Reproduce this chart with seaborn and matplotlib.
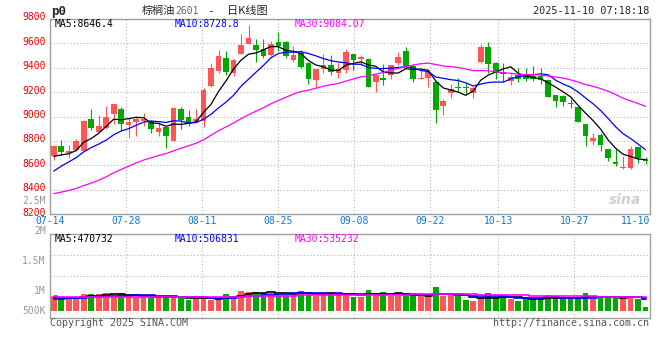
import numpy as np
import pandas as pd
import matplotlib
matplotlib.use("Agg")
import matplotlib.pyplot as plt
import matplotlib.transforms as mtransforms
import seaborn as sns

sns.set_style("white")
plt.rcParams['font.family'] = ['DejaVu Sans Mono', 'Noto Sans CJK SC']

# 棕榈油2601 日K线，2025-07-14 ~ 2025-11-10，80个交易日
opens = [8680, 8762, 8702, 8724, 8721, 8979, 8876, 8903, 9017, 9061,
         8933, 8952, 8963, 8960, 8876, 8917, 8802, 9061, 8998, 8960,
         8966, 9249, 9377, 9477, 9358, 9515, 9594, 9586, 9551, 9502,
         9611, 9613, 9466, 9524, 9439, 9298, 9387, 9420, 9360, 9385,
         9510, 9475, 9469, 9279, 9317, 9338, 9442, 9537, 9415, 9311,
         9320, 9284, 9083, 9189, 9243, 9238, 9192, 9450, 9570, 9442,
         9366, 9292, 9338, 9335, 9333, 9333, 9298, 9178, 9170, 9113,
         9080, 8941, 8800, 8851, 8737, 8623, 8579, 8577, 8753, 8653]
highs = [8762, 8811, 8770, 8816, 8971, 9064, 9012, 9088, 9102, 9075,
         8988, 9007, 9028, 8968, 8952, 8925, 9075, 9080, 9056, 9064,
         9235, 9428, 9545, 9537, 9469, 9681, 9749, 9632, 9632, 9619,
         9695, 9619, 9578, 9545, 9447, 9393, 9510, 9502, 9436, 9551,
         9510, 9504, 9475, 9347, 9428, 9423, 9529, 9570, 9434, 9379,
         9387, 9292, 9143, 9270, 9314, 9273, 9238, 9591, 9611, 9447,
         9442, 9352, 9401, 9395, 9415, 9396, 9306, 9178, 9175, 9143,
         9080, 8941, 8865, 8865, 8737, 8734, 8672, 8762, 8753, 8666]
lows = [8645, 8685, 8658, 8713, 8718, 8892, 8871, 8898, 8936, 8884,
        8822, 8838, 8925, 8862, 8838, 8740, 8802, 8895, 8919, 8952,
        8911, 9243, 9360, 9344, 9333, 9515, 9594, 9450, 9483, 9496,
        9537, 9477, 9450, 9401, 9270, 9238, 9360, 9341, 9314, 9355,
        9379, 9423, 9238, 9205, 9262, 9311, 9426, 9396, 9279, 9306,
        9246, 8944, 9012, 9148, 9197, 9183, 9148, 9436, 9360, 9306,
        9284, 9257, 9279, 9290, 9292, 9265, 9156, 9075, 9088, 9066,
        8952, 8756, 8770, 8713, 8631, 8593, 8571, 8566, 8617, 8609]
closes = [8756, 8707, 8721, 8800, 8963, 8903, 8925, 8998, 9102, 8936,
          8952, 8979, 8979, 8895, 8909, 8838, 9066, 8968, 8938, 8979,
          9219, 9398, 9496, 9368, 9464, 9586, 9643, 9545, 9499, 9597,
          9578, 9496, 9504, 9409, 9311, 9393, 9423, 9368, 9393, 9529,
          9466, 9488, 9238, 9338, 9298, 9423, 9488, 9415, 9306, 9317,
          9366, 9053, 9129, 9224, 9230, 9232, 9230, 9572, 9434, 9360,
          9352, 9325, 9306, 9310, 9306, 9300, 9162, 9129, 9115, 9102,
          8952, 8838, 8827, 8767, 8658, 8612, 8588, 8737, 8661, 8634]
volumes = [569000, 513000, 513000, 513000, 647000, 647000, 647000, 680000, 569000, 647000,
           580000, 558000, 558000, 535000, 502000, 591000, 524000, 535000, 446000, 535000,
           535000, 446000, 469000, 647000, 580000, 747000, 724000, 713000, 680000, 669000,
           691000, 613000, 613000, 747000, 680000, 591000, 680000, 680000, 691000, 624000,
           558000, 558000, 780000, 680000, 713000, 591000, 591000, 647000, 591000, 569000,
           569000, 880000, 591000, 647000, 569000, 446000, 413000, 524000, 680000, 558000,
           558000, 491000, 413000, 491000, 491000, 491000, 613000, 524000, 491000, 491000,
           535000, 680000, 491000, 535000, 535000, 535000, 535000, 580000, 491000, 213000]

# 07-14 之前的29个交易日（估计值，只用于均线起点）
prev_closes = [8340, 8310, 8290, 8280, 8280, 8220, 8160, 8120, 8110, 8140,
               8200, 8260, 8320, 8350, 8370, 8380, 8330, 8340, 8360, 8340,
               8300, 8380, 8440, 8500, 8540, 8642, 8676, 8665, 8621]
prev_volumes = [640000, 590000, 620000, 600000, 580000, 630000, 610000, 650000, 590000, 600000,
                570000, 620000, 640000, 600000, 610000, 590000, 620000, 580000, 600000, 590000,
                470000, 440000, 460000, 450000, 460000, 520000, 500000, 530000, 500000]

date_labels = ["07-14", "07-28", "08-11", "08-25", "09-08", "09-22", "10-13", "10-27", "11-10"]
date_pos = [0, 10, 20, 30, 40, 50, 59, 69, 79]
price_ticks = [8200, 8400, 8600, 8800, 9000, 9200, 9400, 9600, 9800]
vol_labels = ["2.5M", "2M", "1.5M", "1M", "500K"]
ma_windows = [5, 10, 30]
ma_price_text = ["MA5:8646.4", "MA10:8728.8", "MA30:9084.07"]
ma_vol_text = ["MA5:470732", "MA10:506831", "MA30:535232"]
ma_colors = ["black", "#0000ff", "#ff00ff"]
up_color = "#ff5555"
down_color = "#00a800"
grid_color = "#b4b4b4"
frame_color = "#a0a0a0"

W, H = 660, 360
fig = plt.figure(figsize=(6.6, 3.6), dpi=100)
ax = fig.add_axes([50 / W, 1 - 214 / H, 600 / W, 195 / H])
vax = fig.add_axes([50 / W, 1 - 318.3 / H, 600 / W, 84 / H])

o, hi_, lo_, c = map(np.array, (opens, highs, lows, closes))
x = np.arange(len(c))
colors = np.where(c >= o, up_color, down_color)
xlim = (-0.36, 79.6)
# sina 的日期网格比K线略宽一点
grid_x = [p * 80 / 78.9 - 0.5 for p in date_pos]

# ---- K线 ----
ax.vlines(x, lo_, hi_, colors=colors, lw=0.8, zorder=3)
ax.bar(x, np.maximum(np.abs(c - o), 7), bottom=np.minimum(o, c), width=0.76,
       color=colors, linewidth=0, zorder=3)

all_c = pd.Series(prev_closes + closes, dtype=float)
all_v = pd.Series(prev_volumes + volumes, dtype=float)
n_prev = len(prev_closes)
for win, col in zip(ma_windows, ma_colors):
    ma = all_c.rolling(win).mean().to_numpy()[n_prev:]
    sns.lineplot(x=x, y=ma, ax=ax, color=col, lw=0.9, zorder=4)

ax.set_xlim(*xlim)
ax.set_ylim(8200, 9790)
ax.set_yticks(price_ticks)
ax.set_xticks(grid_x[:-1])
ax.tick_params(length=0, labelleft=False, labelbottom=False)
ax.grid(True, color=grid_color, linestyle=(0, (1, 2)), lw=0.8)

# 价格标签比网格线略高一点
price_tr = mtransforms.offset_copy(ax.get_yaxis_transform(), fig=fig, y=1.5, units='dots')
for p in price_ticks:
    ax.text(-0.007, p, str(p), transform=price_tr, ha='right', va='center',
            color='#ee0000', fontsize=7, clip_on=False)
for lab, p in zip(date_labels, grid_x):
    ha = 'center'
    if p > xlim[1] - 2:
        p, ha = xlim[1], 'right'
    ax.text(p, -0.036, lab, transform=ax.get_xaxis_transform(), ha=ha, va='center',
            color='#0a78d6', fontsize=7, clip_on=False)
for txt, col, fx in zip(ma_price_text, ma_colors, (0.008, 0.208, 0.408)):
    ax.text(fx, 0.976, txt, transform=ax.transAxes, color=col, fontsize=7, va='center')
ax.text(0.958, 0.07, "sina", transform=ax.transAxes, color='#d0d0d0', fontsize=10,
        fontstyle='italic', fontweight='bold', ha='center', va='center', family='DejaVu Sans')

# ---- 成交量 ----
vol_floor = 90000
vax.bar(x, np.array(volumes) - vol_floor, bottom=vol_floor, width=0.76, color=colors,
        linewidth=0, zorder=3)
for win, col in zip(ma_windows, ma_colors):
    vma = all_v.rolling(win).mean().to_numpy()[n_prev:]
    sns.lineplot(x=x, y=vma, ax=vax, color=col, lw=1.2, drawstyle='steps-mid', zorder=4)
vax.set_xlim(*xlim)
vax.set_ylim(vol_floor - 254000, vol_floor + 2552000)
ylo, yhi = vax.get_ylim()
vax.set_yticks([ylo + (yhi - ylo) * f for f in (0.25, 0.5, 0.75)])
vax.set_xticks(grid_x[:-1])
vax.tick_params(length=0, labelleft=False, labelbottom=False)
vax.grid(True, color=grid_color, linestyle=(0, (1, 2)), lw=0.8)
for lab, fy in zip(vol_labels, (1.40, 1.043, 0.686, 0.329, 0.090)):
    vax.text(-0.007, fy, lab, transform=vax.transAxes, ha='right', va='center',
             color='#999999', fontsize=7, clip_on=False)
for txt, col, fx in zip(ma_vol_text, ma_colors, (0.008, 0.208, 0.408)):
    vax.text(fx, 0.95, txt, transform=vax.transAxes, color=col, fontsize=7, va='center')

for a in (ax, vax):
    for s in a.spines.values():
        s.set_color(frame_color)
        s.set_linewidth(1.0)

# ---- 标题和页脚 ----
ty = 1 - 11 / H
fig.text(51 / W, ty, "p0", fontsize=9, fontweight='bold', va='center')
fig.text(141.7 / W, ty, "棕榈油", fontsize=8, va='center', family='Noto Sans CJK SC')
fig.text(175.7 / W, ty, "2601", fontsize=7, va='center', color='#666666')
fig.text(210 / W, ty, "-", fontsize=8, va='center', ha='center')
fig.text(226.7 / W, ty, "日K线图", fontsize=8, va='center', family='Noto Sans CJK SC')
fig.text(649.5 / W, ty, "2025-11-10 07:18:18", fontsize=7.3, va='center', ha='right')
fig.text(50 / W, 1 - 323 / H, "Copyright 2025 SINA.COM", fontsize=7.2, va='center', color='#555555')
fig.text(649.5 / W, 1 - 323 / H, "http://finance.sina.com.cn", fontsize=7.2, va='center',
         ha='right', color='#555555')

fig.savefig("out.png", dpi=100)
